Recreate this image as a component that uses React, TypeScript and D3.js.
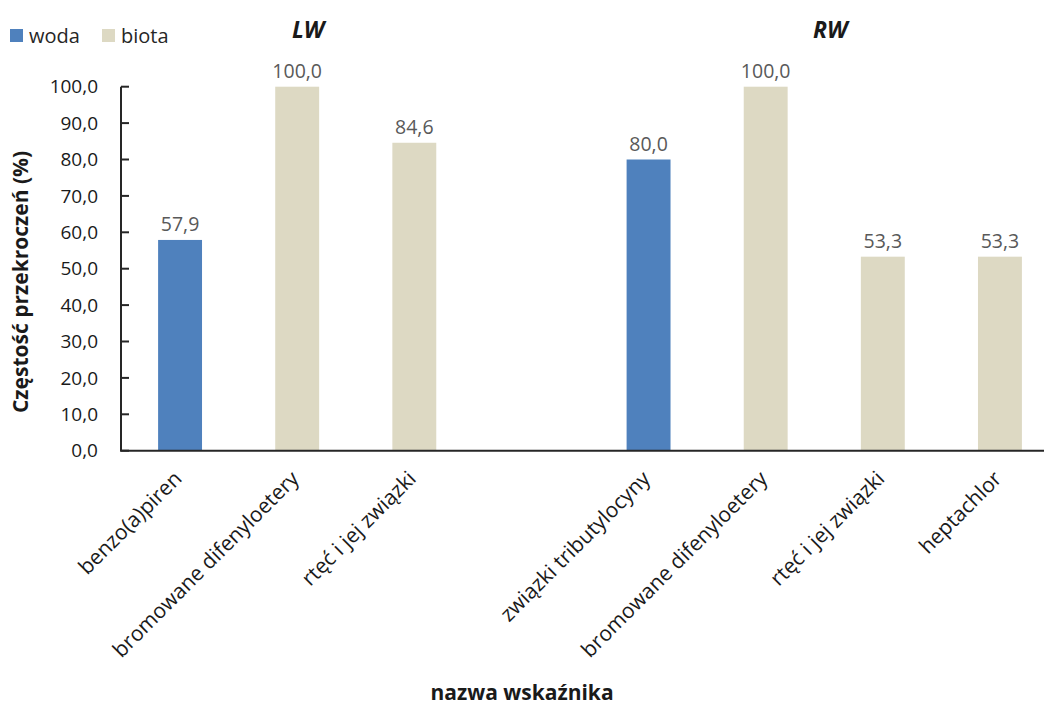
import React from "react";
import * as d3 from "d3";

const categories = [
  "benzo(a)piren",
  "bromowane difenyloetery",
  "rtęć i jej związki",
  "",
  "związki tributylocyny",
  "bromowane difenyloetery ",
  "rtęć i jej związki ",
  "heptachlor",
];
const labels = [
  "benzo(a)piren",
  "bromowane difenyloetery",
  "rtęć i jej związki",
  "",
  "związki tributylocyny",
  "bromowane difenyloetery",
  "rtęć i jej związki",
  "heptachlor",
];
const values: (number | null)[] = [57.9, 100.0, 84.6, null, 80.0, 100.0, 53.3, 53.3];
const seriesOf = ["woda", "biota", "biota", "", "woda", "biota", "biota", "biota"];
const seriesNames = ["woda", "biota"];
const seriesColors = ["#4F81BD", "#DDD9C3"];
const yTicks = [0, 10, 20, 30, 40, 50, 60, 70, 80, 90, 100];
const groupTitles = ["LW", "RW"];

const W = 1044;
const H = 709;
const FONT = "'Open Sans', 'Liberation Sans', sans-serif";

export default function App() {
  const x = d3.scaleBand<string>().domain(categories).range([121.5, 1058.5]).paddingInner(0.625).paddingOuter(0.3125);
  const y = d3.scaleLinear().domain([0, 100]).range([450.7, 86.7]);
  const color = d3.scaleOrdinal<string, string>().domain(seriesNames).range(seriesColors);
  const fmt = (v: number) => v.toFixed(1).replace(".", ",");
  const bw = x.bandwidth();
  const cx = (c: string) => (x(c) as number) + bw / 2;
  const lwCenter = cx(categories[1]) + 11;
  const rwCenter = (cx(categories[5]) + cx(categories[6])) / 2 + 6;

  return (
    <svg width={W} height={H} style={{ position: "absolute", left: 0, top: 0, background: "#fff" }} fontFamily={FONT}>
      {/* legend */}
      {seriesNames.map((s, i) => {
        const lx = i === 0 ? 10 : 102;
        return (
          <g key={s}>
            <rect x={lx} y={29} width={13} height={13} fill={color(s)} />
            <text x={lx + 19} y={43} fontSize={20} fill="#262626">{s}</text>
          </g>
        );
      })}
      {/* group titles */}
      <text x={lwCenter} y={38} fontSize={23} fontWeight="bold" fontStyle="italic" textAnchor="middle" fill="#1a1a1a">{groupTitles[0]}</text>
      <text x={rwCenter} y={38} fontSize={23} fontWeight="bold" fontStyle="italic" textAnchor="middle" fill="#1a1a1a">{groupTitles[1]}</text>

      {/* bars */}
      {categories.map((c, i) => {
        const v = values[i];
        if (v === null) return null;
        return (
          <g key={c}>
            <rect x={x(c)} y={y(v)} width={bw} height={y(0) - y(v)} fill={color(seriesOf[i])} />
            <text x={cx(c)} y={y(v) - 9} fontSize={19.5} textAnchor="middle" fill="#595959">{fmt(v)}</text>
          </g>
        );
      })}

      {/* y axis */}
      <line x1={121} x2={121} y1={y(100)} y2={y(0)} stroke="#262626" strokeWidth={2} />
      {yTicks.map((t) => (
        <g key={t}>
          <line x1={121} x2={129} y1={y(t)} y2={y(t)} stroke="#262626" strokeWidth={2} />
          <text x={98} y={y(t)} dy="0.35em" fontSize={19} textAnchor="end" fill="#1a1a1a">{fmt(t)}</text>
        </g>
      ))}
      {/* x axis */}
      <line x1={120} x2={W} y1={y(0)} y2={y(0)} stroke="#262626" strokeWidth={2} />

      {/* category labels */}
      {categories.map((c, i) =>
        labels[i] ? (
          <text
            key={"l" + i}
            transform={`translate(${cx(c) + 3},${480}) rotate(-45)`}
            fontSize={21}
            textAnchor="end"
            fill="#1a1a1a"
          >
            {labels[i]}
          </text>
        ) : null
      )}

      {/* axis titles */}
      <text transform={`translate(28,282) rotate(-90)`} fontSize={21} fontWeight="bold" textAnchor="middle" fill="#1a1a1a">
        Częstość przekroczeń (%)
      </text>
      <text x={522} y={700} fontSize={21} fontWeight="bold" textAnchor="middle" fill="#1a1a1a">nazwa wskaźnika</text>
    </svg>
  );
}
